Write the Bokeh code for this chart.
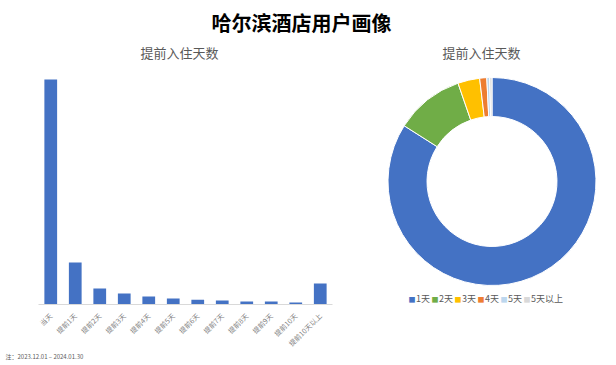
import math
from bokeh.plotting import figure
from bokeh.models import Label, Range1d, FactorRange, ColumnDataSource, Title
from bokeh.layouts import column, row
from bokeh.embed import file_html
from bokeh.resources import INLINE

# ---- data ----
bar_categories = ["当天", "提前1天", "提前2天", "提前3天", "提前4天", "提前5天",
                  "提前6天", "提前7天", "提前8天", "提前9天", "提前10天", "提前10天以上"]
bar_values = [1000, 187, 71, 49, 36, 27, 21, 18, 13, 13, 9, 93]

pie_labels = ["1天", "2天", "3天", "4天", "5天", "5天以上"]
pie_shares = [84.0, 10.7, 3.4, 1.1, 0.45, 0.35]
pie_colors = ["#4472C4", "#70AD47", "#FFC000", "#ED7D31", "#BDD7EE", "#D9D9D9"]

main_title = "哈尔滨酒店用户画像"
sub_title = "提前入住天数"
footnote = "注：2023.12.01 – 2024.01.30"

FONT = "Noto Sans CJK SC"
GREY = "#595959"


def blank(fig):
    fig.axis.visible = False
    fig.grid.visible = False
    fig.outline_line_color = None


# ---- title strip (main title + both chart subtitles) ----
pt = figure(width=616, height=62, toolbar_location=None, output_backend="svg",
            x_range=Range1d(0, 616), y_range=Range1d(0, 62), min_border=0)
blank(pt)
pt.add_layout(Label(x=301, y=40, x_units="screen", y_units="screen", text=main_title,
                    text_align="center", text_baseline="middle", text_font=FONT,
                    text_font_size="20px", text_font_style="bold", text_color="black"))
for sx in (179, 481):
    pt.add_layout(Label(x=sx, y=10, x_units="screen", y_units="screen", text=sub_title,
                        text_align="center", text_baseline="middle", text_font=FONT,
                        text_font_size="13px", text_color=GREY))

# ---- bar chart ----
pb = figure(width=360, height=303, toolbar_location=None, output_backend="svg",
            x_range=FactorRange(*bar_categories, range_padding=0),
            y_range=Range1d(0, max(bar_values) * 1.04),
            min_border_left=38, min_border_right=28, min_border_top=8, min_border_bottom=61)
pb.vbar(x=bar_categories, top=bar_values, width=0.52, fill_color="#4472C4", line_color=None)
pb.yaxis.visible = False
pb.grid.visible = False
pb.outline_line_color = None
pb.xaxis.axis_line_color = "#D9D9D9"
pb.xaxis.major_tick_line_color = None
pb.xaxis.minor_tick_line_color = None
pb.xaxis.major_label_orientation = math.pi / 4
pb.xaxis.major_label_text_font = FONT
pb.xaxis.major_label_text_font_size = "7px"
pb.xaxis.major_label_text_color = "#7F7F7F"
pb.xaxis.major_label_standoff = 4
pb.add_layout(Title(text=footnote, align="left", offset=-33, text_font=FONT,
                    text_font_size="6px", text_color=GREY, text_font_style="normal",
                    standoff=-10), "below")

# ---- donut (1 data unit = 1 px, centre at 0,0); frame aligns with the bar frame ----
pp = figure(width=256, height=303, toolbar_location=None, output_backend="svg",
            x_range=Range1d(-131.5, 124.5), y_range=Range1d(-123, 111), min_border=0)
blank(pp)

total = sum(pie_shares)
starts, ends = [], []
acc = 0.0
for s in pie_shares:
    starts.append(math.pi / 2 - 2 * math.pi * acc / total)
    acc += s
    ends.append(math.pi / 2 - 2 * math.pi * acc / total)
src = ColumnDataSource(dict(start=starts, end=ends, color=pie_colors, label=pie_labels))
pp.annular_wedge(x=0, y=0, inner_radius=65, outer_radius=104, start_angle="start",
                 end_angle="end", direction="clock", fill_color="color",
                 line_color="white", line_width=1, source=src)

# legend row under the donut (inside the frame)
item_step = 23
for i, (lab, col) in enumerate(zip(pie_labels, pie_colors)):
    x0 = 51.5 + item_step * i
    pp.add_layout(Label(x=x0, y=6, x_units="screen", y_units="screen", text="■",
                        text_align="center", text_baseline="middle", text_font=FONT,
                        text_font_size="7px", text_color=col))
    pp.add_layout(Label(x=x0 + 4, y=6, x_units="screen", y_units="screen", text=lab,
                        text_align="left", text_baseline="middle", text_font=FONT,
                        text_font_size="9px", text_color=GREY))

layout = column(pt, row(pb, pp))
open("out.html", "w").write(file_html(layout, INLINE))
